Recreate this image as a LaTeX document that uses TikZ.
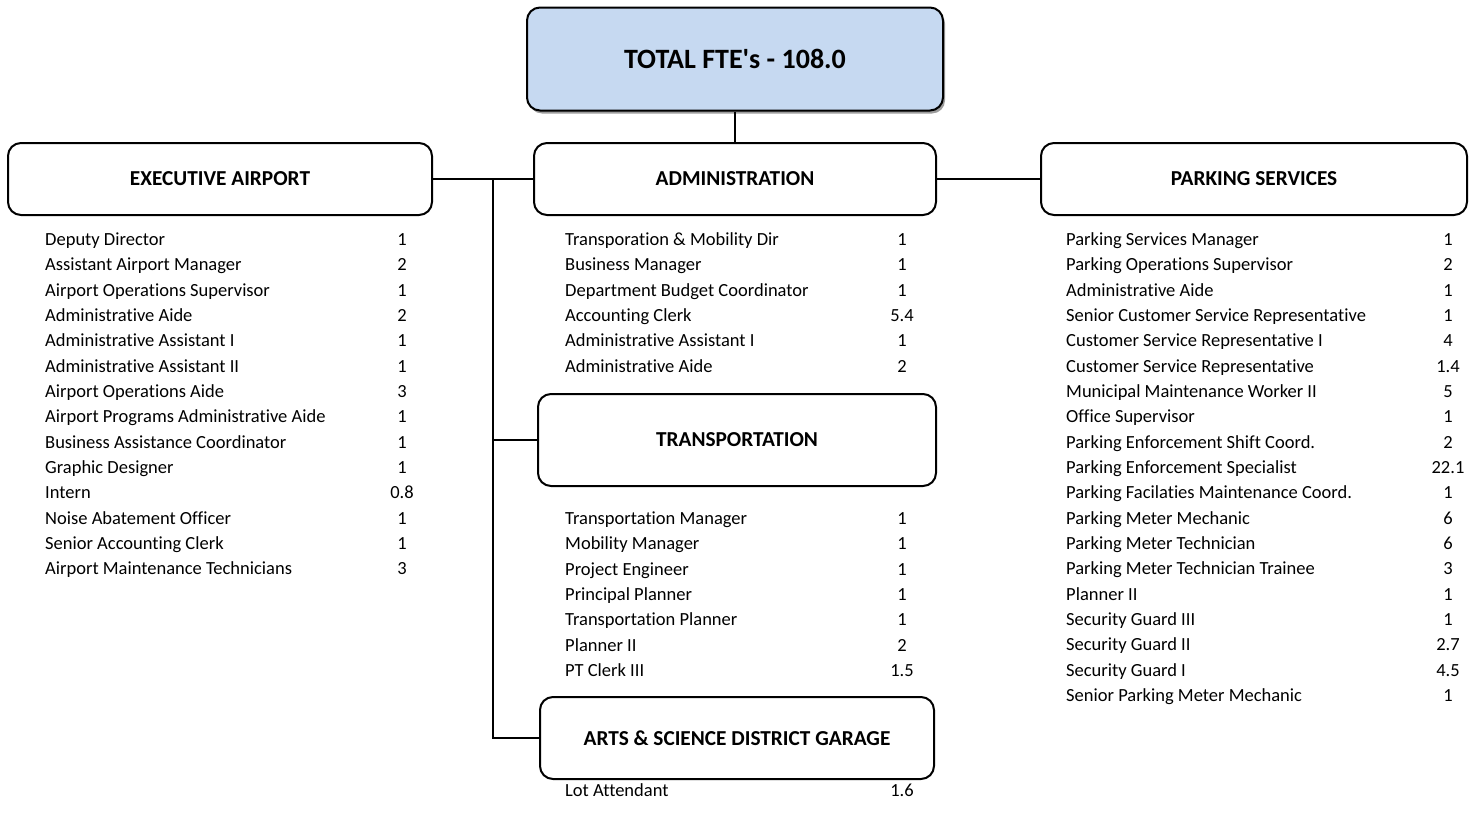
\documentclass[tikz,border=0pt]{standalone}
\usepackage{fontspec}
\setmainfont{Carlito}[Ligatures={NoCommon,TeXOff}]
\usetikzlibrary{shadows}
\definecolor{topfill}{HTML}{C6D9F1}
\tikzset{
  unitbox/.style={draw=black, line width=2pt, rounded corners=13pt, fill=white,
    font=\fontsize{21.3}{25}\selectfont\bfseries, inner sep=0pt},
  topbox/.style={unitbox, fill=topfill, font=\fontsize{28}{33}\selectfont\bfseries,
    drop shadow={shadow xshift=2pt, shadow yshift=-3pt, opacity=0.55, fill=black!70}},
  link/.style={line width=2pt},
  item/.style={anchor=base west, inner sep=0pt, font=\fontsize{18.5}{22}\selectfont},
  qty/.style={anchor=base, inner sep=0pt, font=\fontsize{18.5}{22}\selectfont},
}
\begin{document}
\begin{tikzpicture}[x=1pt, y=-1pt]
\useasboundingbox (0,0) rectangle (1481,827);

% unit boxes
\node[topbox, minimum width=416pt, minimum height=103pt] (top) at (735,59) {TOTAL FTE's - 108.0};
\node[unitbox, minimum width=424pt, minimum height=72pt] (exec) at (220,179) {EXECUTIVE AIRPORT};
\node[unitbox, minimum width=402pt, minimum height=72pt] (admin) at (735,179) {ADMINISTRATION};
\node[unitbox, minimum width=426pt, minimum height=72pt] (park) at (1254,179) {PARKING SERVICES};
\node[unitbox, minimum width=398pt, minimum height=92pt] (trans) at (737,440) {TRANSPORTATION};
\node[unitbox, minimum width=394pt, minimum height=82pt] (arts) at (737,738) {ARTS \& SCIENCE DISTRICT GARAGE};

% connectors
\coordinate (trunk) at (493,179);
\draw[link] (top.south) -- (admin.north);
\draw[link] (exec.east) -- (admin.west);
\draw[link] (admin.east) -- (park.west);
\draw[link] (trunk) |- (arts.west);
\draw[link] (trunk |- trans.west) -- (trans.west);

% staffing lists: first baseline, then one row every 25.33pt
\foreach \name/\fte [count=\i] in {
  Deputy Director/1, Assistant Airport Manager/2, Airport Operations Supervisor/1,
  Administrative Aide/2, Administrative Assistant I/1, Administrative Assistant II/1,
  Airport Operations Aide/3, Airport Programs Administrative Aide/1,
  Business Assistance Coordinator/1, Graphic Designer/1, Intern/0.8,
  Noise Abatement Officer/1, Senior Accounting Clerk/1, Airport Maintenance Technicians/3}
{
  \node[item] (ea\i) at (45,{245.5+(\i-1)*25.33}) {\name};
  \node[qty] (eaq\i) at (402,{245.5+(\i-1)*25.33}) {\fte};
}

\foreach \name/\fte [count=\i] in {
  Transporation \& Mobility Dir/1, Business Manager/1, Department Budget Coordinator/1,
  Accounting Clerk/5.4, Administrative Assistant I/1, Administrative Aide/2}
{
  \node[item] (ad\i) at (565,{245.5+(\i-1)*25.33}) {\name};
  \node[qty] (adq\i) at (902,{245.5+(\i-1)*25.33}) {\fte};
}

\foreach \name/\fte [count=\i] in {
  Transportation Manager/1, Mobility Manager/1, Project Engineer/1,
  Principal Planner/1, Transportation Planner/1, Planner II/2, PT Clerk III/1.5}
{
  \node[item] (tr\i) at (565,{524.5+(\i-1)*25.33}) {\name};
  \node[qty] (trq\i) at (902,{524.5+(\i-1)*25.33}) {\fte};
}

\node[item] (ag1) at (565,796.5) {Lot Attendant};
\node[qty] (agq1) at (902,796.5) {1.6};

\foreach \name/\fte [count=\i] in {
  Parking Services Manager/1, Parking Operations Supervisor/2, Administrative Aide/1,
  Senior Customer Service Representative/1, Customer Service Representative I/4,
  Customer Service Representative/1.4, Municipal Maintenance Worker II/5,
  Office Supervisor/1, Parking Enforcement Shift Coord./2,
  Parking Enforcement Specialist/22.1, Parking Facilaties Maintenance Coord./1,
  Parking Meter Mechanic/6, Parking Meter Technician/6,
  Parking Meter Technician Trainee/3, Planner II/1, Security Guard III/1,
  Security Guard II/2.7, Security Guard I/4.5, Senior Parking Meter Mechanic/1}
{
  \node[item] (ps\i) at (1066,{245.5+(\i-1)*25.33}) {\name};
  \node[qty] (psq\i) at (1448,{245.5+(\i-1)*25.33}) {\fte};
}
\end{tikzpicture}
\end{document}
